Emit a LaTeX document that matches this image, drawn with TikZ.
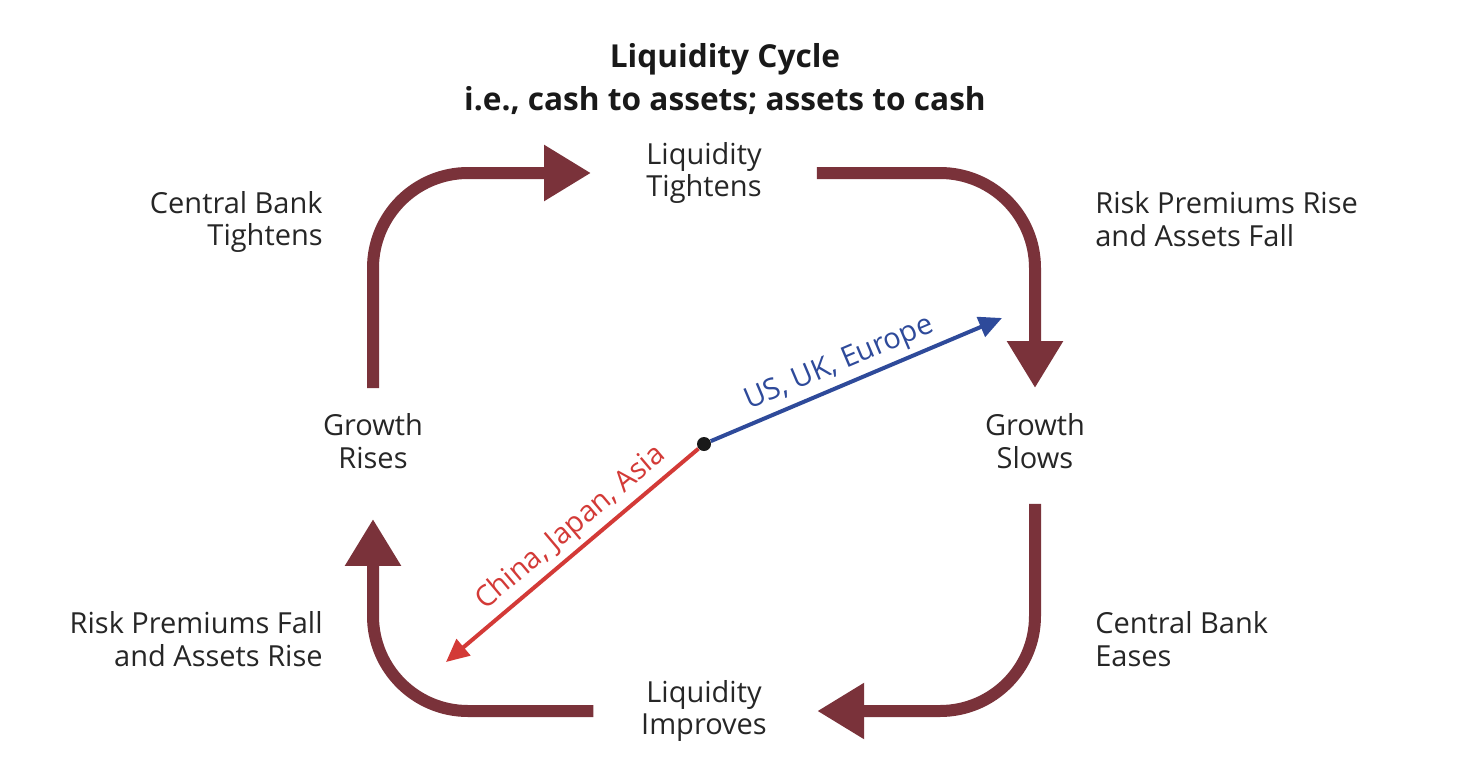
\documentclass[tikz,border=0pt]{standalone}
\usepackage{fontspec}
\setmainfont{Open Sans}
\usetikzlibrary{arrows.meta,positioning}

\definecolor{cyclered}{HTML}{7A323A}
\definecolor{westblue}{HTML}{2E4A9A}
\definecolor{eastred}{HTML}{D33A37}

\begin{document}
\begin{tikzpicture}[x=0.02cm,y=-0.02cm]

\tikzset{inner sep=1mm,
label/.style={font=\fontsize{16.5}{18.7}\selectfont,text=black!85},
title/.style={font=\fontsize{18}{25}\selectfont\bfseries,text=black!90,align=center},
cycarrow/.style={draw=cyclered,line width=0.24cm,rounded corners=1.9cm,
  -{Triangle[width=1.06cm,length=0.94cm]}},
flowarrow/.style={line width=0.08cm,-{Triangle[width=0.42cm,length=0.46cm]}},
hubdot/.style={circle,fill=black!90,inner sep=0mm,minimum size=0.28cm}}

\useasboundingbox (0,0) rectangle (1458,778);

% Title
\node[title] (head) at (725,79) {Liquidity Cycle\\i.e., cash to assets; assets to cash};

% Stages of the cycle
\node[label,align=center] (tight) at (704,173) {Liquidity\\Tightens};
\node[label,align=center] (slows) at (1035,441) {Growth\\Slows};
\node[label,align=center] (improves) at (704,711) {Liquidity\\Improves};
\node[label,align=center] (rises) at (373,441) {Growth\\Rises};

% Side notes
\node[label,align=right,anchor=east] (cbtight) at (328,222) {Central Bank\\Tightens};
\node[label,align=left,anchor=west] (riskrise) at (1090,219) {Risk Premiums Rise\\and Assets Fall};
\node[label,align=left,anchor=west] (cbease) at (1090,639) {Central Bank\\Eases};
\node[label,align=right,anchor=east] (riskfall) at (328,639) {Risk Premiums Fall\\and Assets Rise};

% Cycle arrows
\draw[cycarrow,shorten <=0.4cm,shorten >=1.0cm] (rises.north) |- (tight.west);
\draw[cycarrow,shorten <=1.0cm,shorten >=0.4cm] (tight.east) -| (slows.north);
\draw[cycarrow,shorten <=0.6cm,shorten >=0.9cm] (slows.south) |- (improves.east);
\draw[cycarrow,shorten <=0.85cm,shorten >=0.9cm] (improves.west) -| (rises.south);

% Regions
\node[hubdot] (hub) at (704,444) {};
\coordinate (eastend) at (1002,318);
\coordinate (westend) at (446,662);
\draw[flowarrow,westblue] (hub) -- node[label,sloped,above,pos=0.47,text=westblue] (uslabel) {US, UK, Europe} (eastend);
\draw[flowarrow,eastred] (hub) -- node[label,sloped,above,pos=0.45,text=eastred] (asialabel) {China, Japan, Asia} (westend);

\end{tikzpicture}
\end{document}
